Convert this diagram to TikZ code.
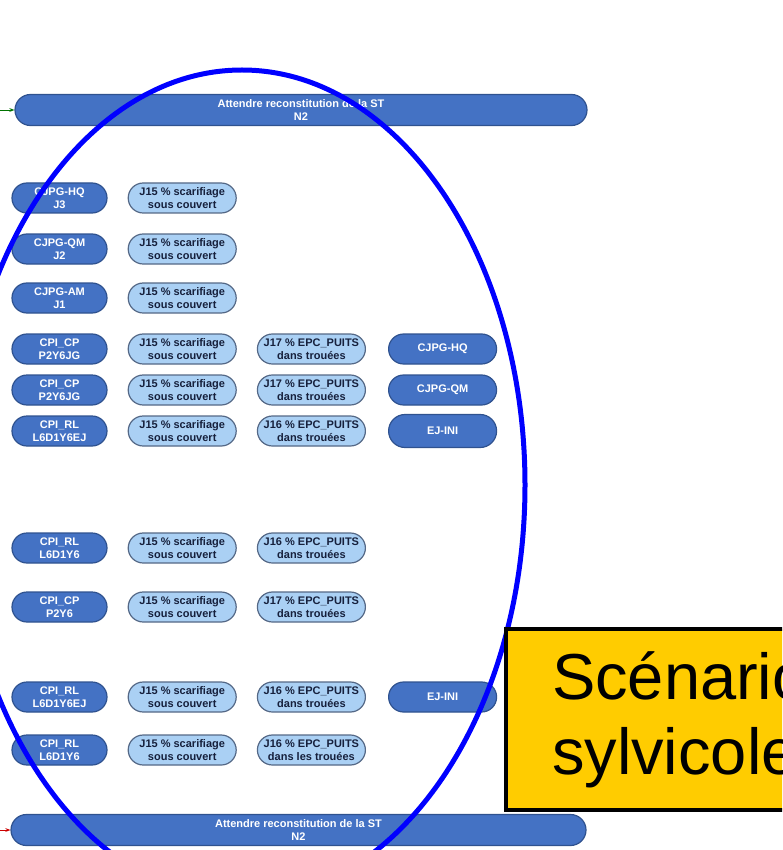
\documentclass[tikz,border=0pt]{standalone}
\usepackage{fontspec}
\setsansfont{Liberation Sans}
\usetikzlibrary{positioning, arrows.meta, shapes.misc}
\definecolor{pillblue}{RGB}{68,114,196}
\definecolor{pilledge}{RGB}{47,82,143}
\definecolor{paleblue}{RGB}{170,208,244}
\definecolor{paleedge}{RGB}{84,104,134}
\definecolor{paletext}{RGB}{22,32,60}
\definecolor{titleyellow}{RGB}{255,204,0}

\begin{document}
\begin{tikzpicture}[x=1pt, y=-1pt, node distance=20pt,
    pill/.style={rounded rectangle, draw, line width=1.2pt, inner sep=1pt, minimum height=30pt,
      align=center, font=\sffamily\bfseries\fontsize{11}{13.5}\selectfont},
    darkpill/.style={pill, fill=pillblue, draw=pilledge, text=white, minimum width=97pt},
    lightpill/.style={pill, fill=paleblue, draw=paleedge, text=paletext, minimum width=110pt},
    bar/.style={darkpill, minimum height=31pt},
    titlebox/.style={rectangle, draw, line width=4pt, fill=titleyellow, anchor=north west,
      minimum height=181pt, text width=300pt, inner xsep=46pt, align=left,
      font=\sffamily\fontsize{65}{75}\selectfont}]
  \useasboundingbox (0,0) rectangle (782,850);
  \clip (0,0) rectangle (782,850);

  \node[bar, minimum width=574pt] (waittop) at (301,110) {Attendre reconstitution de la ST\\N2};
  \node[bar, minimum width=577pt] (waitbot) at (298.5,830) {Attendre reconstitution de la ST\\N2};
  \coordinate (intop) at (0,110);
  \coordinate (inbot) at (0,830);
  \draw[-{Stealth[length=5pt]}, thick, green!45!black] (intop) -- (waittop.west);
  \draw[-{Stealth[length=5pt]}, thick, red!80!black] (inbot) -- (waitbot.west);

  \node[darkpill] (a1) at (59.5,198) {CJPG-HQ\\J3};
  \node[lightpill, right=of a1] (b1) {J15 \% scarifiage\\sous couvert};
  \node[darkpill] (a2) at (59.5,249) {CJPG-QM\\J2};
  \node[lightpill, right=of a2] (b2) {J15 \% scarifiage\\sous couvert};
  \node[darkpill] (a3) at (59.5,298) {CJPG-AM\\J1};
  \node[lightpill, right=of a3] (b3) {J15 \% scarifiage\\sous couvert};

  \node[darkpill] (a4) at (59.5,349) {CPI\_CP\\P2Y6JG};
  \node[lightpill, right=of a4] (b4) {J15 \% scarifiage\\sous couvert};
  \node[lightpill, right=of b4] (c4) {J17 \% EPC\_PUITS\\dans trouées};
  \node[darkpill, minimum width=110pt, right=22pt of c4] (d4) {CJPG-HQ};
  \node[darkpill] (a5) at (59.5,390) {CPI\_CP\\P2Y6JG};
  \node[lightpill, right=of a5] (b5) {J15 \% scarifiage\\sous couvert};
  \node[lightpill, right=of b5] (c5) {J17 \% EPC\_PUITS\\dans trouées};
  \node[darkpill, minimum width=110pt, right=22pt of c5] (d5) {CJPG-QM};
  \node[darkpill] (a6) at (59.5,431) {CPI\_RL\\L6D1Y6EJ};
  \node[lightpill, right=of a6] (b6) {J15 \% scarifiage\\sous couvert};
  \node[lightpill, right=of b6] (c6) {J16 \% EPC\_PUITS\\dans trouées};
  \node[darkpill, minimum width=110pt, minimum height=33pt, right=22pt of c6] (d6) {EJ-INI};

  \node[darkpill] (a7) at (59.5,548) {CPI\_RL\\L6D1Y6};
  \node[lightpill, right=of a7] (b7) {J15 \% scarifiage\\sous couvert};
  \node[lightpill, right=of b7] (c7) {J16 \% EPC\_PUITS\\dans trouées};
  \node[darkpill] (a8) at (59.5,607) {CPI\_CP\\P2Y6};
  \node[lightpill, right=of a8] (b8) {J15 \% scarifiage\\sous couvert};
  \node[lightpill, right=of b8] (c8) {J17 \% EPC\_PUITS\\dans trouées};

  \node[darkpill] (a9) at (59.5,697) {CPI\_RL\\L6D1Y6EJ};
  \node[lightpill, right=of a9] (b9) {J15 \% scarifiage\\sous couvert};
  \node[lightpill, right=of b9] (c9) {J16 \% EPC\_PUITS\\dans trouées};
  \node[darkpill, minimum width=110pt, right=22pt of c9] (d9) {EJ-INI};
  \node[darkpill] (a10) at (59.5,750) {CPI\_RL\\L6D1Y6};
  \node[lightpill, right=of a10] (b10) {J15 \% scarifiage\\sous couvert};
  \node[lightpill, right=of b10] (c10) {J16 \% EPC\_PUITS\\dans les trouées};

  \draw[blue, line width=5pt] (242,485) ellipse [x radius=283, y radius=415];

  \node[titlebox] (title) at (504,627) {Scénario\\sylvicole};
\end{tikzpicture}
\end{document}
